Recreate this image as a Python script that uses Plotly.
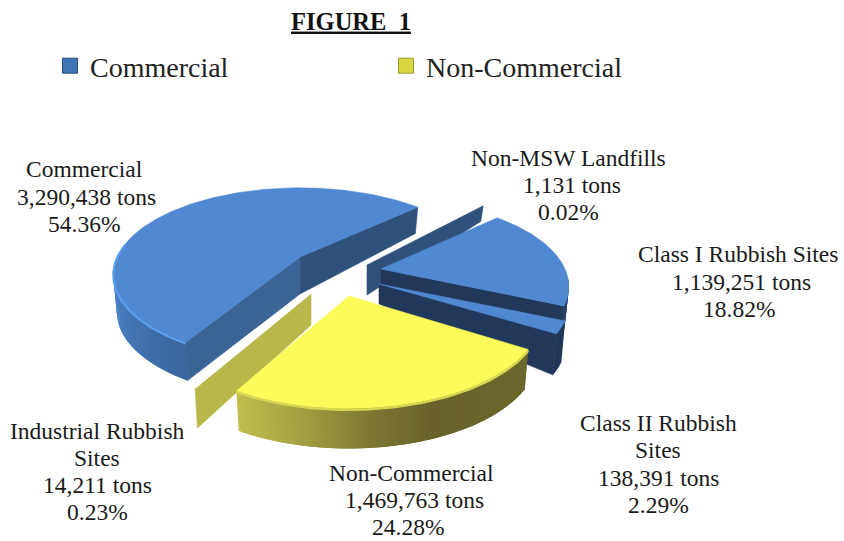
import math
import plotly.graph_objects as go

# ---- data ----
slice_names = ["Commercial", "Non-MSW Landfills", "Class I Rubbish Sites",
               "Class II Rubbish\nSites", "Non-Commercial", "Industrial Rubbish\nSites"]
tons = [3290438, 1131, 1139251, 138391, 1469763, 14211]
percents = ["54.36%", "0.02%", "18.82%", "2.29%", "24.28%", "0.23%"]
legend_names = ["Commercial", "Non-Commercial"]
title_text = "FIGURE\u00a0\u00a01"

# ---- styling / geometry of the exploded 3D look ----
TOTAL = sum(tons)
START = 44.0
K = 0.2
LEAN = 0.98
W, H = 844, 541
BLUE_TOP, YEL_TOP = "#5088d2", "#fbfb5a"
geom = {
    "Commercial": dict(cx=300, cy=257, rx=183, ry=83, h=38, apex_h=37, back=0.45, rot=-1, top=BLUE_TOP,
                       cut_a="#2f527d", cut_b="#3a6496",
                       wall=[(170, "#5089d0"), (200, "#4a80c3"), (240, "#37659c")], rim="#5ba0ef"),
    "Non-MSW Landfills": dict(cx=367, cy=265, rx=184, ry=97, h=30, apex_h=30, back=0.7, rot=0, top="#2f527d",
                              cut_a="#2f527d", cut_b="#2f527d", wall=None, rim=None),
    "Class I Rubbish Sites": dict(cx=381, cy=269, rx=184, ry=84, h=34, apex_h=34, back=0.35, rot=0, top=BLUE_TOP,
                                  cut_a="#21385a", cut_b="#21385a",
                                  wall=[(-40, "#21385a"), (0, "#2a4670")], rim=None),
    "Class II Rubbish\nSites": dict(cx=379, cy=284, rx=187, ry=84, h=41, apex_h=20, back=0.35, rot=0, top=BLUE_TOP,
                                    cut_a="#21385a", cut_b="#21385a",
                                    wall=[(-40, "#21385a"), (0, "#21385a")], rim=None),
    "Non-Commercial": dict(cx=349, cy=296, rx=189, ry=90, h=40, apex_h=34, back=0.35, rot=0, top=YEL_TOP,
                           cut_a="#6b682c", cut_b="#c4c44e",
                           wall=[(-125, "#c6c650"), (-105, "#a8a644"), (-85, "#7d7832"), (-70, "#68622a"), (-30, "#6b682c")],
                           rim="#d8d850"),
    "Industrial Rubbish\nSites": dict(cx=311, cy=293, rx=190, ry=91, h=40, apex_h=32, back=0.35, rot=0, top="#b8b84a",
                                      cut_a="#b8b84a", cut_b="#b8b84a", wall=None, rim="#ffffff"),
}
label_pos = {
    "Commercial": [(84, 169), (86, 197), (84, 224)],
    "Non-MSW Landfills": [(568, 158), (572, 185), (568, 212)],
    "Class I Rubbish Sites": [(738, 254), (741, 282), (739, 309)],
    "Class II Rubbish\nSites": [(658, 423), (658, 450), (658, 478), (658, 505)],
    "Non-Commercial": [(411, 473), (414, 500), (408, 527)],
    "Industrial Rubbish\nSites": [(97, 431), (97, 458), (97, 485), (97, 512)],
}


def project(theta, g):
    a = math.radians(theta + g["rot"])
    X, Y = math.cos(a), math.sin(a)
    d = 1 + K * Y
    return g["cx"] + g["rx"] * X / d, g["cy"] - g["ry"] * Y / d, g["h"] * (1 - g["back"] * max(Y, 0))


def bottom_x(x, g):
    return g["cx"] + (x - g["cx"]) * LEAN


def mix(stops, t):
    def rgb(c):
        return [int(c[i:i + 2], 16) for i in (1, 3, 5)]
    if t <= stops[0][0]:
        return stops[0][1]
    for (t0, c0), (t1, c1) in zip(stops, stops[1:]):
        if t <= t1:
            f = (t - t0) / (t1 - t0)
            v = [round(a + (b - a) * f) for a, b in zip(rgb(c0), rgb(c1))]
            return "rgb(%d,%d,%d)" % tuple(v)
    return stops[-1][1]


fig = go.Figure()


def poly(xs, ys, color, lw=0.6):
    fig.add_trace(go.Scatter(x=xs, y=ys, mode="lines", fill="toself", fillcolor=color,
                             line=dict(color=color, width=lw), hoverinfo="skip", showlegend=False))


def thetas(a, b, step=2.0):
    n = max(1, int(abs(b - a) / step))
    return [a + (b - a) * i / n for i in range(n + 1)]


# spans, clockwise from Non-MSW after Commercial, measured from the values
spans = {}
cur = START
for name, v in zip(slice_names[1:], tons[1:]):
    nxt = cur - v / TOTAL * 360
    spans[name] = (cur, nxt)
    cur = nxt
spans["Commercial"] = (START, cur + 360)


def cut_face(g, theta, color):
    x, y, h = project(theta, g)
    poly([g["cx"], x, bottom_x(x, g), g["cx"], g["cx"]], [g["cy"], y, y + h, g["cy"] + g["apex_h"], g["cy"]], color)


def top_face(g, a, b, color):
    pts = [project(t, g) for t in thetas(a, b, 1.0)]
    poly([g["cx"]] + [p[0] for p in pts] + [g["cx"]], [g["cy"]] + [p[1] for p in pts] + [g["cy"]], color)


def outer_wall(g, a, b):
    # one strip per step; each strip overlaps the next so no seams show
    ts = thetas(a, b, 1.0)
    for i in range(len(ts) - 1):
        t0, t1 = ts[i], ts[min(i + 2, len(ts) - 1)]
        x0, y0, h0 = project(t0, g)
        x1, y1, h1 = project(t1, g)
        poly([x0, x1, bottom_x(x1, g), bottom_x(x0, g), x0], [y0, y1, y1 + h1, y0 + h0, y0],
             mix(g["wall"], ts[i]), 0)


def rim(g, a, b, width=2):
    pts = [project(t, g) for t in thetas(a, b, 1.0)]
    fig.add_trace(go.Scatter(x=[p[0] for p in pts], y=[p[1] + width / 2 for p in pts], mode="lines",
                             line=dict(color=g["rim"], width=width), hoverinfo="skip", showlegend=False))


# Non-MSW: only its cut face shows
g = geom["Non-MSW Landfills"]
cut_face(g, spans["Non-MSW Landfills"][0], g["cut_a"])

# Commercial
g = geom["Commercial"]
a, b = spans["Commercial"]
cut_face(g, a, g["cut_a"])
outer_wall(g, 172, b)
cut_face(g, b, g["cut_b"])
top_face(g, a, b, g["top"])
rim(g, 172, b)

# Class I
g = geom["Class I Rubbish Sites"]
a, b = spans["Class I Rubbish Sites"]
outer_wall(g, -5, b)
cut_face(g, b, g["cut_a"])
top_face(g, a, b, g["top"])

# Class II
g = geom["Class II Rubbish\nSites"]
a, b = spans["Class II Rubbish\nSites"]
outer_wall(g, a, b)
cut_face(g, b, g["cut_a"])
top_face(g, a, b, g["top"])

# Industrial: only its cut face shows
g = geom["Industrial Rubbish\nSites"]
a, b = spans["Industrial Rubbish\nSites"]
cut_face(g, b, g["cut_a"])
x, y, _ = project(b, g)
fig.add_trace(go.Scatter(x=[g["cx"], x], y=[g["cy"], y], mode="lines", line=dict(color=g["rim"], width=1.5),
                         hoverinfo="skip", showlegend=False))

# Non-Commercial
g = geom["Non-Commercial"]
a, b = spans["Non-Commercial"]
outer_wall(g, b, a)
top_face(g, a, b, g["top"])
rim(g, b, a, 2.5)

# legend entries
for nm, col, edge in zip(legend_names, ["#3f74b5", "#d8d83e"], ["#2a4d7c", "#9a9a30"]):
    fig.add_trace(go.Scatter(x=[None], y=[None], mode="markers", name=nm,
                             marker=dict(symbol="square", size=15, color=col, line=dict(color=edge, width=1))))

# slice labels
SERIF = "Liberation Serif, Times New Roman, serif"
for name, t, pct in zip(slice_names, tons, percents):
    lines = name.split("\n") + [f"{t:,} tons", pct]
    for line, (lx, ly) in zip(lines, label_pos[name]):
        fig.add_annotation(x=lx, y=ly, text=line, showarrow=False, xanchor="center", yanchor="middle",
                           font=dict(family=SERIF, size=23.5, color="#1a1a1a"))

fig.update_layout(
    width=W, height=H, autosize=False, margin=dict(l=0, r=0, t=0, b=0),
    paper_bgcolor="white", plot_bgcolor="white", hovermode=False,
    xaxis=dict(range=[0, W], visible=False, fixedrange=True),
    yaxis=dict(range=[H, 0], visible=False, fixedrange=True),
    title=dict(text=f"<b><u>{title_text}</u></b>", x=351 / W, xanchor="center", y=1 - 21 / H, yanchor="middle",
               font=dict(family=SERIF, size=24.5, color="#111111")),
    legend=dict(orientation="h", x=50 / W, xanchor="left", y=1 - 66 / H, yanchor="middle",
                entrywidth=291, entrywidthmode="pixels", itemsizing="trace",
                font=dict(family=SERIF, size=28, color="#222222"), bgcolor="rgba(0,0,0,0)", traceorder="normal"),
    showlegend=True,
)

fig.write_html("out.html", config={"displayModeBar": False},
               post_script="document.body.style.margin='0';document.body.style.overflow='hidden';")
